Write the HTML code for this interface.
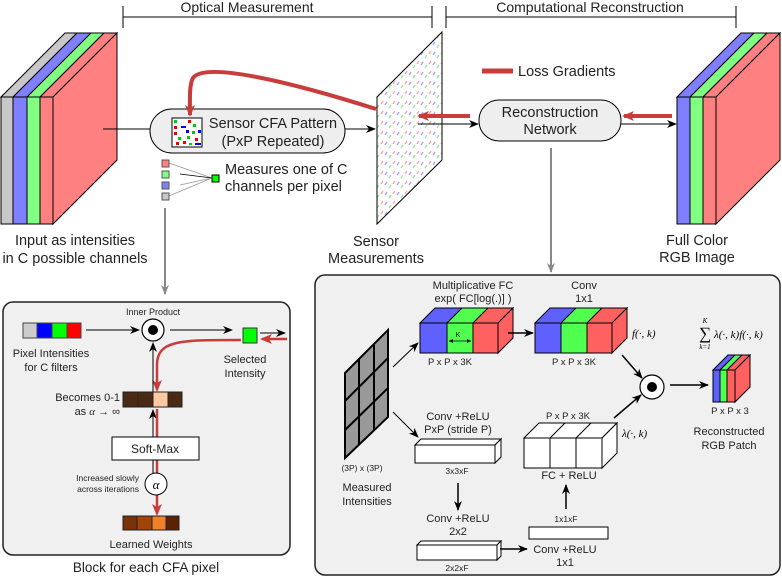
<!DOCTYPE html>
<html><head><meta charset="utf-8"><style>
html,body{margin:0;padding:0;background:#fff;}
svg{display:block;font-family:"Liberation Sans",sans-serif;}
.m{font-family:"Liberation Serif",serif;font-style:italic;}
</style></head><body>
<svg width="782" height="577" viewBox="0 0 782 577" xmlns="http://www.w3.org/2000/svg">
<defs>
<marker id="ab" markerWidth="10" markerHeight="8" refX="9" refY="4" orient="auto" markerUnits="userSpaceOnUse"><path d="M0,0 L10,4 L0,8 L3,4z" fill="#000"/></marker>
<marker id="ag" markerWidth="10" markerHeight="8" refX="9" refY="4" orient="auto" markerUnits="userSpaceOnUse"><path d="M0,0 L10,4 L0,8 L3,4z" fill="#888"/></marker>
<marker id="ar" markerWidth="12" markerHeight="10" refX="10" refY="5" orient="auto" markerUnits="userSpaceOnUse"><path d="M0,0 L12,5 L0,10 L3,5z" fill="#c83c3c"/></marker>
<pattern id="dots" width="12" height="10" patternUnits="userSpaceOnUse">
<rect width="12" height="10" fill="#fff"/>
<path d="M1,5 l2,-3" stroke="#9aa0ff" stroke-width="1.3"/>
<path d="M5,8 l2,-3" stroke="#98e898" stroke-width="1.3"/>
<path d="M9,4 l2,-3" stroke="#ffa0a0" stroke-width="1.3"/>
</pattern>
</defs>

<text x="247" y="12" font-size="14" text-anchor="middle" fill="#222">Optical Measurement</text>
<path d="M123,6 V28 M123,17 H432 M432,6 V28" stroke="#000" stroke-width="1" fill="none"/>
<text x="590" y="12" font-size="14" text-anchor="middle" fill="#222">Computational Reconstruction</text>
<path d="M446,6 V28 M446,17 H736 M736,6 V28" stroke="#000" stroke-width="1" fill="none"/>

<g stroke="#000" stroke-width="1">
<polygon points="1,97 13,97 77,33 65,33" fill="#c8c8c8"/>
<polygon points="13,97 27,97 91,33 77,33" fill="#8080ff"/>
<polygon points="27,97 40,97 104,33 91,33" fill="#80ff80"/>
<polygon points="40,97 53,97 117,33 104,33" fill="#ff8080"/>
<rect x="1" y="97" width="12" height="127" fill="#c8c8c8"/>
<rect x="13" y="97" width="14" height="127" fill="#8080ff"/>
<rect x="27" y="97" width="13" height="127" fill="#80ff80"/>
<rect x="40" y="97" width="13" height="127" fill="#ff8080"/>
<polygon points="53,97 117,33 117,160 53,224" fill="#ff8080"/>
</g>
<text x="75" y="245" font-size="14.5" text-anchor="middle" fill="#222">Input as intensities</text>
<text x="75" y="263" font-size="14.5" text-anchor="middle" fill="#222">in C possible channels</text>

<line x1="103" y1="129" x2="150" y2="129" stroke="#000"/>
<rect x="150" y="109" width="195" height="44" rx="22" fill="#eee" stroke="#000"/>
<rect x="172" y="118" width="30" height="29" fill="#fff" stroke="#000"/>
<g>
<rect x="174" y="120" width="3" height="3" fill="#0c0"/><rect x="188" y="120" width="3" height="3" fill="#e00"/>
<rect x="174" y="126" width="3" height="3" fill="#e00"/><rect x="181" y="126" width="5" height="2" fill="#00e"/><rect x="193" y="124" width="3" height="3" fill="#0c0"/>
<rect x="174" y="132" width="3" height="3" fill="#e00"/><rect x="186" y="130" width="3" height="3" fill="#00e"/><rect x="192" y="131" width="3" height="3" fill="#0c0"/><rect x="198" y="130" width="3" height="3" fill="#00e"/>
<rect x="178" y="137" width="3" height="3" fill="#0c0"/><rect x="187" y="136" width="3" height="3" fill="#0c0"/><rect x="195" y="138" width="3" height="3" fill="#e00"/>
<rect x="176" y="142" width="3" height="3" fill="#e00"/><rect x="183" y="141" width="3" height="3" fill="#e00"/><rect x="189" y="143" width="3" height="2" fill="#0c0"/><rect x="195" y="143" width="6" height="2" fill="#00e"/>
</g>
<text x="273" y="128" font-size="14.5" text-anchor="middle" fill="#222">Sensor CFA Pattern</text>
<text x="273" y="146" font-size="14.5" text-anchor="middle" fill="#222">(PxP Repeated)</text>
<line x1="345" y1="129" x2="375" y2="129" stroke="#000" marker-end="url(#ab)"/>

<path d="M376,109 C300,85 205,60 193,78 C189,85 190,100 190,115" stroke="#c83c3c" stroke-width="4" fill="none" marker-end="url(#ar)"/>

<g stroke="#999" stroke-width="0.8">
<line x1="169" y1="163" x2="212" y2="178"/><line x1="180" y1="174" x2="212" y2="178" stroke="#000"/><line x1="180" y1="185" x2="212" y2="178"/><line x1="169" y1="196" x2="212" y2="178"/>
</g>
<g stroke="#555" stroke-width="1">
<rect x="162" y="160" width="7" height="7" fill="#ff8080"/>
<rect x="162" y="171" width="7" height="7" fill="#80ff80"/>
<rect x="162" y="182" width="7" height="7" fill="#8080ff"/>
<rect x="162" y="193" width="7" height="7" fill="#c8c8c8"/>
<rect x="212" y="175" width="7" height="7" fill="#0f0" stroke="#000"/>
</g>
<text x="225" y="174" font-size="14.5" fill="#222">Measures one of C</text>
<text x="225" y="191" font-size="14.5" fill="#222">channels per pixel</text>
<line x1="165" y1="208" x2="165" y2="294" stroke="#888" stroke-width="2" marker-end="url(#ag)"/>

<polygon points="377,97 442,32 442,160 377,224" fill="url(#dots)" stroke="#000"/>
<text x="376" y="246" font-size="14.5" text-anchor="middle" fill="#222">Sensor</text>
<text x="376" y="263" font-size="14.5" text-anchor="middle" fill="#222">Measurements</text>

<line x1="470" y1="116" x2="419" y2="116" stroke="#c83c3c" stroke-width="4" marker-end="url(#ar)"/>
<line x1="418" y1="124" x2="478" y2="124" stroke="#000" marker-end="url(#ab)"/>
<rect x="479" y="100" width="142" height="41" rx="20" fill="#eee" stroke="#000"/>
<text x="550" y="117" font-size="14.5" text-anchor="middle" fill="#222">Reconstruction</text>
<text x="550" y="134" font-size="14.5" text-anchor="middle" fill="#222">Network</text>
<line x1="672" y1="116" x2="624" y2="116" stroke="#c83c3c" stroke-width="4" marker-end="url(#ar)"/>
<line x1="621" y1="124" x2="676" y2="124" stroke="#000" marker-end="url(#ab)"/>
<line x1="482" y1="71" x2="513" y2="71" stroke="#c83c3c" stroke-width="5"/>
<text x="518" y="76" font-size="14.5" fill="#222">Loss Gradients</text>
<line x1="551" y1="148" x2="551" y2="272" stroke="#888" stroke-width="2" marker-end="url(#ag)"/>

<g stroke="#000" stroke-width="1">
<polygon points="677,97 690,97 754,33 741,33" fill="#8080ff"/>
<polygon points="690,97 703,97 767,33 754,33" fill="#80ff80"/>
<polygon points="703,97 716,97 780,33 767,33" fill="#ff8080"/>
<rect x="677" y="97" width="13" height="127" fill="#8080ff"/>
<rect x="690" y="97" width="13" height="127" fill="#80ff80"/>
<rect x="703" y="97" width="13" height="127" fill="#ff8080"/>
<polygon points="716,97 780,33 780,160 716,224" fill="#ff8080"/>
</g>
<text x="697" y="245" font-size="14.5" text-anchor="middle" fill="#222">Full Color</text>
<text x="697" y="262" font-size="14.5" text-anchor="middle" fill="#222">RGB Image</text>

<rect x="3" y="302" width="287" height="253" rx="10" fill="#f0f0f0" stroke="#222" stroke-width="1.5"/>
<text x="146" y="572" font-size="13.5" text-anchor="middle" fill="#222">Block for each CFA pixel</text>
<text x="153" y="315" font-size="9" text-anchor="middle" fill="#222">Inner Product</text>
<circle cx="153" cy="330" r="11" fill="#fff" stroke="#000" stroke-width="1.2"/><circle cx="153" cy="330" r="5" fill="#000"/>
<g stroke="#444"><rect x="23" y="323" width="14" height="15" fill="#ccc"/><rect x="37" y="323" width="15" height="15" fill="#00f"/><rect x="52" y="323" width="15" height="15" fill="#0f0"/><rect x="67" y="323" width="14" height="15" fill="#f00"/></g>
<line x1="86" y1="330" x2="139" y2="330" stroke="#000" marker-end="url(#ab)"/>
<line x1="170" y1="330" x2="232" y2="330" stroke="#000" marker-end="url(#ab)"/>
<rect x="243" y="328" width="14" height="15" fill="#0f0" stroke="#333"/>
<line x1="260" y1="333" x2="285" y2="333" stroke="#000" marker-end="url(#ab)"/>
<line x1="287" y1="339" x2="262" y2="339" stroke="#c83c3c" stroke-width="2.5" marker-end="url(#ar)"/>
<path d="M241,340 C180,340 157,340 157,365 L157,390" stroke="#c83c3c" stroke-width="2.5" fill="none" marker-end="url(#ar)"/>
<text x="51" y="357" font-size="11" text-anchor="middle" fill="#222">Pixel Intensities</text>
<text x="51" y="371" font-size="11" text-anchor="middle" fill="#222">for C filters</text>
<text x="245" y="363" font-size="11" text-anchor="middle" fill="#222">Selected</text>
<text x="245" y="377" font-size="11" text-anchor="middle" fill="#222">Intensity</text>
<text x="120" y="401" font-size="11" text-anchor="end" fill="#222">Becomes 0-1</text>
<text x="120" y="415" font-size="11" text-anchor="end" fill="#222">as <tspan class="m">α</tspan> → ∞</text>
<g stroke="#222"><rect x="123" y="392" width="15" height="15" fill="#4a2a14"/><rect x="138" y="392" width="15" height="15" fill="#4a2a14"/><rect x="153" y="392" width="15" height="15" fill="#fdc9a4"/><rect x="168" y="392" width="14" height="15" fill="#4a2a14"/></g>
<line x1="153" y1="437" x2="153" y2="410" stroke="#000" marker-end="url(#ab)"/>
<line x1="153" y1="392" x2="153" y2="343" stroke="#000" marker-end="url(#ab)"/>
<line x1="153" y1="473" x2="153" y2="460" stroke="#000"/>
<line x1="157" y1="409" x2="157" y2="437" stroke="#c83c3c" stroke-width="2.5"/>
<line x1="157" y1="460" x2="157" y2="514" stroke="#c83c3c" stroke-width="2.5" marker-end="url(#ar)"/>
<rect x="112" y="437" width="87" height="23" fill="#fff" stroke="#000"/>
<text x="155" y="453" font-size="12" text-anchor="middle" fill="#222">Soft-Max</text>
<circle cx="156" cy="484" r="11" fill="#fff" stroke="#000"/>
<text x="156" y="489" class="m" font-size="13" text-anchor="middle">α</text>
<text x="139" y="481" font-size="8.5" text-anchor="end" fill="#222">Increased slowly</text>
<text x="139" y="492" font-size="8.5" text-anchor="end" fill="#222">across iterations</text>
<g stroke="#222"><rect x="123" y="516" width="14" height="14" fill="#7a3208"/><rect x="137" y="516" width="15" height="14" fill="#a0440a"/><rect x="152" y="516" width="14" height="14" fill="#f0802a"/><rect x="166" y="516" width="13" height="14" fill="#5a2404"/></g>
<text x="151" y="548" font-size="11" text-anchor="middle" fill="#222">Learned Weights</text>

<rect x="315" y="275" width="465" height="300" rx="10" fill="#f0f0f0" stroke="#222" stroke-width="1.5"/>
<polygon points="345,373 388,330 388,417 345,458" fill="#999" stroke="#000" stroke-width="2"/>
<path d="M359,359 V444 M374,345 V431 M345,401 L388,358 M345,430 L388,388" stroke="#000" stroke-width="2"/>
<text x="362" y="471" font-size="8.5" text-anchor="middle" fill="#222">(3P) x (3P)</text>
<text x="367" y="491" font-size="11" text-anchor="middle" fill="#222">Measured</text>
<text x="367" y="505" font-size="11" text-anchor="middle" fill="#222">Intensities</text>
<line x1="393" y1="367" x2="418" y2="343" stroke="#000" marker-end="url(#ab)"/>
<line x1="393" y1="412" x2="418" y2="437" stroke="#000" marker-end="url(#ab)"/>

<g stroke="#000">
<polygon points="420,323 435,308 462,308 447,323" fill="#6060ff"/>
<polygon points="447,323 462,308 488,308 473,323" fill="#50ff50"/>
<polygon points="473,323 488,308 513,308 498,323" fill="#ff6060"/>
<rect x="420" y="323" width="27" height="30" fill="#6060ff"/>
<rect x="447" y="323" width="26" height="30" fill="#50ff50"/>
<rect x="473" y="323" width="25" height="30" fill="#ff6060"/>
<polygon points="498,323 513,308 513,338 498,353" fill="#ff6060"/>
</g>
<line x1="449" y1="341" x2="471" y2="341" stroke="#000" stroke-width="0.8"/>
<path d="M449,341 l4,-2 v4z M471,341 l-4,-2 v4z" fill="#000"/>
<text x="458" y="337" font-size="7" text-anchor="middle">K</text>
<text x="473" y="289" font-size="11" text-anchor="middle" fill="#222">Multiplicative FC</text>
<text x="473" y="302" font-size="11" text-anchor="middle" fill="#222">exp( FC[log(.)] )</text>
<text x="450" y="365" font-size="9.5" text-anchor="middle" fill="#222">P x P x 3K</text>
<line x1="508" y1="333" x2="533" y2="333" stroke="#000" stroke-width="1.5" marker-end="url(#ab)"/>
<g stroke="#000">
<polygon points="535,323 550,308 576,308 561,323" fill="#6060ff"/>
<polygon points="561,323 576,308 602,308 587,323" fill="#50ff50"/>
<polygon points="587,323 602,308 627,308 612,323" fill="#ff6060"/>
<rect x="535" y="323" width="26" height="30" fill="#6060ff"/>
<rect x="561" y="323" width="26" height="30" fill="#50ff50"/>
<rect x="587" y="323" width="25" height="30" fill="#ff6060"/>
<polygon points="612,323 627,308 627,338 612,353" fill="#ff6060"/>
</g>
<text x="584" y="289" font-size="11" text-anchor="middle" fill="#222">Conv</text>
<text x="584" y="302" font-size="11" text-anchor="middle" fill="#222">1x1</text>
<text x="574" y="365" font-size="9.5" text-anchor="middle" fill="#222">P x P x 3K</text>
<text x="632" y="337" class="m" font-size="11">f(·, k)</text>
<line x1="622" y1="355" x2="642" y2="378" stroke="#000" stroke-width="1.5" marker-end="url(#ab)"/>
<circle cx="652" cy="387" r="12" fill="#fff" stroke="#000" stroke-width="1.2"/><circle cx="652" cy="387" r="5" fill="#000"/>
<line x1="670" y1="385" x2="708" y2="385" stroke="#000" stroke-width="1.5" marker-end="url(#ab)"/>
<g stroke="#000">
<polygon points="713,370 728,355 735,355 720,370" fill="#6060ff"/>
<polygon points="720,370 735,355 742,355 727,370" fill="#50ff50"/>
<polygon points="727,370 742,355 750,355 735,370" fill="#ff6060"/>
<rect x="713" y="370" width="7" height="32" fill="#6060ff"/>
<rect x="720" y="370" width="7" height="32" fill="#50ff50"/>
<rect x="727" y="370" width="8" height="32" fill="#ff6060"/>
<polygon points="735,370 750,355 750,387 735,402" fill="#ff6060"/>
</g>
<text x="730" y="414" font-size="9.5" text-anchor="middle" fill="#222">P x P x 3</text>
<text x="729" y="435" font-size="11" text-anchor="middle" fill="#222">Reconstructed</text>
<text x="729" y="449" font-size="11" text-anchor="middle" fill="#222">RGB Patch</text>
<text x="705" y="323" class="m" font-size="7" text-anchor="middle">K</text>
<text x="705" y="339" font-family="Liberation Serif,serif" font-size="17" text-anchor="middle">∑</text>
<text x="705" y="349" class="m" font-size="7" text-anchor="middle">k=1</text>
<text x="714" y="338" class="m" font-size="11">λ(·, k)f(·, k)</text>

<text x="458" y="420" font-size="11" text-anchor="middle" fill="#222">Conv +ReLU</text>
<text x="458" y="433" font-size="11" text-anchor="middle" fill="#222">PxP (stride P)</text>
<g stroke="#000" fill="#fff">
<polygon points="415,445 421,439 501,439 495,445"/><polygon points="495,445 501,439 501,457 495,463"/>
<rect x="415" y="445" width="80" height="18"/>
</g>
<text x="457" y="474" font-size="8.5" text-anchor="middle" fill="#222">3x3xF</text>
<line x1="458" y1="483" x2="458" y2="510" stroke="#000" stroke-width="1.5" marker-end="url(#ab)"/>
<text x="458" y="522" font-size="11" text-anchor="middle" fill="#222">Conv +ReLU</text>
<text x="458" y="535" font-size="11" text-anchor="middle" fill="#222">2x2</text>
<g stroke="#000" fill="#fff">
<polygon points="417,545 421,541 501,541 497,545"/><polygon points="497,545 501,541 501,556 497,560"/>
<rect x="417" y="545" width="80" height="15"/>
</g>
<text x="457" y="571" font-size="8.5" text-anchor="middle" fill="#222">2x2xF</text>
<line x1="500" y1="549" x2="527" y2="549" stroke="#000" stroke-width="1.5" marker-end="url(#ab)"/>
<text x="565" y="553" font-size="11" text-anchor="middle" fill="#222">Conv +ReLU</text>
<text x="565" y="566" font-size="11" text-anchor="middle" fill="#222">1x1</text>
<rect x="529" y="527" width="79" height="12" fill="#fff" stroke="#000"/>
<text x="566" y="522" font-size="8.5" text-anchor="middle" fill="#222">1x1xF</text>
<line x1="566" y1="509" x2="566" y2="485" stroke="#000" stroke-width="1.5" marker-end="url(#ab)"/>
<text x="569" y="479" font-size="11" text-anchor="middle" fill="#222">FC + ReLU</text>
<g stroke="#000" fill="#fff">
<polygon points="524,438 539,423 617,423 602,438"/>
<polygon points="602,438 617,423 617,453 602,468"/>
<rect x="524" y="438" width="78" height="30"/>
<path d="M550,438 L565,423 M576,438 L591,423 M550,438 V468 M576,438 V468" fill="none"/>
</g>
<text x="568" y="419" font-size="9.5" text-anchor="middle" fill="#222">P x P x 3K</text>
<text x="622" y="437" class="m" font-size="11">λ(·, k)</text>
<line x1="614" y1="418" x2="641" y2="395" stroke="#000" stroke-width="1.5" marker-end="url(#ab)"/>
</svg>
</body></html>
